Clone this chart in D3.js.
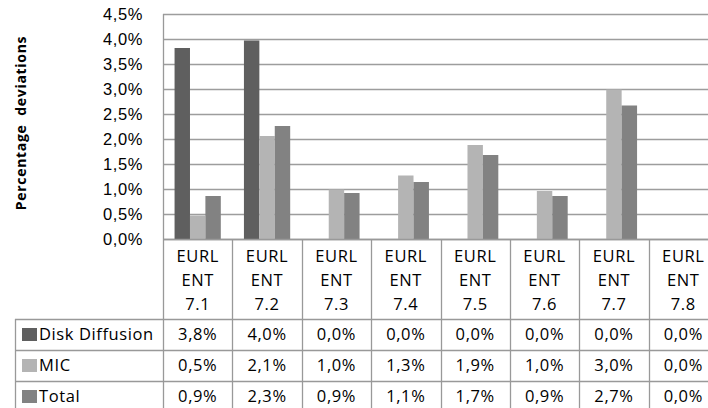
<!DOCTYPE html>
<html>
<head>
<meta charset="utf-8">
<script src="https://cdn.jsdelivr.net/npm/d3@7"></script>
<style>
  body { margin: 0; background: #fff; }
  svg { display: block; font-family: "Open Sans", sans-serif; }
  .lbl { font-size: 16.5px; letter-spacing: 0.6px; fill: #000; }
</style>
</head>
<body>
<script>
var categories = ["7.1", "7.2", "7.3", "7.4", "7.5", "7.6", "7.7", "7.8"];
var seriesNames = ["Disk Diffusion", "MIC", "Total"];
var diskDiffusion = [0.0382, 0.0397, 0, 0, 0, 0, 0, 0];
var mic = [0.0047, 0.0206, 0.0099, 0.0127, 0.0188, 0.0096, 0.0299, 0];
var total = [0.0086, 0.0226, 0.0092, 0.0114, 0.0168, 0.0086, 0.0267, 0];
var yTicks = [0, 0.005, 0.01, 0.015, 0.02, 0.025, 0.03, 0.035, 0.04, 0.045];
var colors = ["#5f5f5f", "#b4b4b4", "#828282"];

var allSeries = [diskDiffusion, mic, total];

var width = 708, height = 408;
var plot = {left: 163, top: 14, bottom: 239, right: 718};
var rowLines = [319, 350, 381, 412];
var legendLeft = 15;

var fmt = function(v) { return d3.format(".1%")(v).replace(".", ","); };

var svg = d3.select("body").append("svg")
  .attr("width", width)
  .attr("height", height);

var x0 = d3.scaleBand().domain(categories).range([plot.left, plot.right]);
var x1 = d3.scaleBand().domain(seriesNames).range([0, x0.bandwidth()]).paddingOuter(0.75);
var y = d3.scaleLinear().domain([0, 0.045]).range([plot.bottom, plot.top]);

// gridlines
svg.append("g")
  .selectAll("line")
  .data(yTicks)
  .enter()
  .append("line")
  .attr("x1", plot.left)
  .attr("x2", plot.right)
  .attr("y1", function(d) { return Math.round(y(d)) + 0.5; })
  .attr("y2", function(d) { return Math.round(y(d)) + 0.5; })
  .attr("stroke", "#9d9d9d")
  .attr("stroke-width", 1.3);

// y axis labels
var yAxis = d3.axisLeft(y).tickValues(yTicks).tickSize(0).tickPadding(20).tickFormat(fmt);
svg.append("g")
  .attr("transform", "translate(" + plot.left + ",0)")
  .call(yAxis)
  .call(function(g) { g.select(".domain").remove(); })
  .selectAll("text")
  .attr("class", "lbl")
  .attr("font-family", null)
  .attr("font-size", null);

// y title
svg.append("text")
  .attr("transform", "translate(26,123) rotate(-90)")
  .attr("text-anchor", "middle")
  .attr("font-size", "14px")
  .attr("font-weight", "bold")
  .attr("letter-spacing", "0.7px")
  .style("white-space", "pre")
  .text("Percentage  deviations");

// bars
var groups = svg.append("g")
  .selectAll("g")
  .data(categories)
  .enter()
  .append("g")
  .attr("transform", function(d) { return "translate(" + x0(d) + ",0)"; });

groups.selectAll("rect")
  .data(function(d, i) {
    return seriesNames.map(function(s, j) { return {series: s, value: allSeries[j][i], j: j}; });
  })
  .enter()
  .append("rect")
  .attr("x", function(d) { return x1(d.series); })
  .attr("width", x1.bandwidth())
  .attr("y", function(d) { return y(d.value); })
  .attr("height", function(d) { return plot.bottom - y(d.value); })
  .attr("fill", function(d) { return colors[d.j]; });

// table lines
var lineColor = "#999";
var tbl = svg.append("g").attr("stroke", lineColor).attr("stroke-width", 1.3);

// plot border left/top
tbl.append("line").attr("x1", plot.left + 0.5).attr("x2", plot.left + 0.5).attr("y1", plot.top).attr("y2", height);
tbl.append("line").attr("x1", plot.left).attr("x2", plot.right).attr("y1", plot.bottom + 0.5).attr("y2", plot.bottom + 0.5);

// column dividers
tbl.selectAll(".col")
  .data(categories.slice(1))
  .enter()
  .append("line")
  .attr("x1", function(d) { return Math.round(x0(d)) + 0.5; })
  .attr("x2", function(d) { return Math.round(x0(d)) + 0.5; })
  .attr("y1", plot.bottom)
  .attr("y2", height);

// legend column left border
tbl.append("line").attr("x1", legendLeft + 0.5).attr("x2", legendLeft + 0.5).attr("y1", rowLines[0]).attr("y2", height);

// row lines
tbl.selectAll(".row")
  .data(rowLines.slice(0, 3))
  .enter()
  .append("line")
  .attr("x1", legendLeft)
  .attr("x2", plot.right)
  .attr("y1", function(d) { return d + 0.5; })
  .attr("y2", function(d) { return d + 0.5; });

// header labels
var cx = function(d) { return x0(d) + x0.bandwidth() / 2; };
var header = svg.append("g")
  .selectAll("text")
  .data(categories)
  .enter()
  .append("text")
  .attr("class", "lbl")
  .attr("text-anchor", "middle");

header.append("tspan").attr("x", cx).attr("y", 262).text("EURL");
header.append("tspan").attr("x", cx).attr("y", 286).text("ENT");
header.append("tspan").attr("x", cx).attr("y", 310).text(function(d) { return d; });

// table rows
seriesNames.forEach(function(s, j) {
  var top = rowLines[j], bot = rowLines[j + 1];
  var cy = (top + bot) / 2;
  svg.append("rect")
    .attr("x", 22)
    .attr("y", cy - 6.5)
    .attr("width", 15)
    .attr("height", 13)
    .attr("fill", colors[j]);
  svg.append("text")
    .attr("class", "lbl")
    .attr("x", 39)
    .attr("y", cy + 5.5)
    .text(s);
  svg.append("g")
    .selectAll("text")
    .data(allSeries[j])
    .enter()
    .append("text")
    .attr("class", "lbl")
    .attr("x", function(d, i) { return cx(categories[i]); })
    .attr("y", cy + 5.5)
    .attr("text-anchor", "middle")
    .text(function(d) { return fmt(d); });
});
</script>
</body>
</html>
